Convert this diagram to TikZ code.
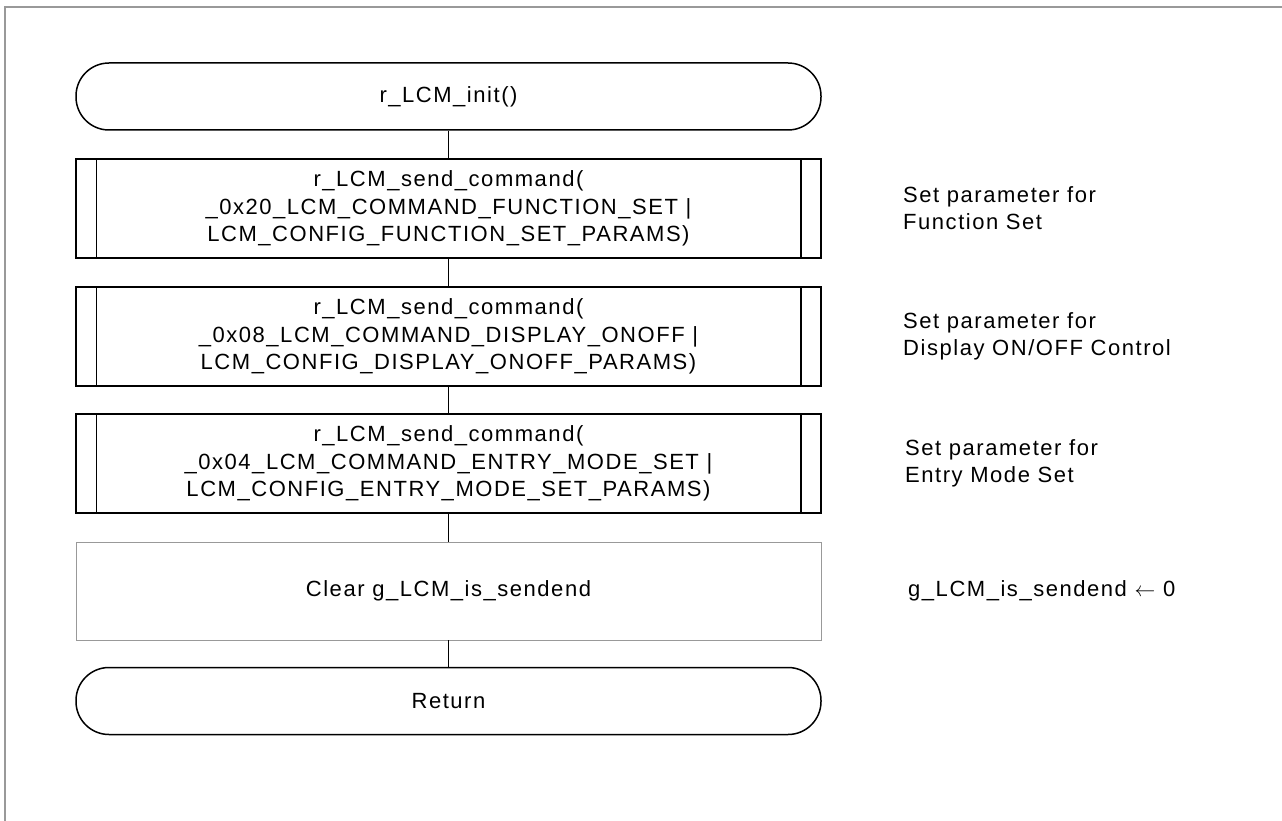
\documentclass[tikz,border=0pt]{standalone}
\usepackage{fontspec}
\setmainfont[LetterSpace=7]{Liberation Sans}
\begin{document}
\begin{tikzpicture}
  [x=1pt, y=-1pt,
   every node/.style={font=\fontsize{22}{27.5}\selectfont, inner sep=0pt},
   terminal/.style={draw, line width=1.5pt, rounded corners=33pt,
     minimum width=745pt, minimum height=67pt},
   subproc/.style={draw, line width=1.5pt, align=center,
     minimum width=745pt, minimum height=99pt},
   procbox/.style={draw=gray!80, line width=0.9pt, align=center,
     minimum width=745pt, minimum height=98pt},
   note/.style={anchor=west, align=left, font=\fontsize{22}{27}\selectfont},
   flow line/.style={line width=1.5pt}]
  \useasboundingbox (0,0) rectangle (1282,821);
  % frame
  \draw[gray!80, line width=1.2pt] (5,821) -- (5,7) -- (1282,7);
  % flow
  \node[terminal] (init) at (448.5,96.5) {r\_LCM\_init()};
  \node[subproc] (fset) at (448.5,208.5)
    {r\_LCM\_send\_command(\\\_0x20\_LCM\_COMMAND\_FUNCTION\_SET |\\LCM\_CONFIG\_FUNCTION\_SET\_PARAMS)};
  \node[subproc] (disp) at (448.5,336.5)
    {r\_LCM\_send\_command(\\\_0x08\_LCM\_COMMAND\_DISPLAY\_ONOFF |\\LCM\_CONFIG\_DISPLAY\_ONOFF\_PARAMS)};
  \node[subproc] (entry) at (448.5,463.5)
    {r\_LCM\_send\_command(\\\_0x04\_LCM\_COMMAND\_ENTRY\_MODE\_SET |\\LCM\_CONFIG\_ENTRY\_MODE\_SET\_PARAMS)};
  \node[procbox] (clear) at (448.5,591) {Clear g\_LCM\_is\_sendend};
  \node[terminal] (ret) at (448.5,701) {Return};
  \foreach \b in {fset, disp, entry} {
    \draw[flow line] ([xshift=21pt]\b.north west) -- ([xshift=21pt]\b.south west);
    \draw[flow line] ([xshift=-21pt]\b.north east) -- ([xshift=-21pt]\b.south east);
  }
  \draw[flow line] (init) -- (fset);
  \draw[flow line] (fset) -- (disp);
  \draw[flow line] (disp) -- (entry);
  \draw[flow line] (entry) -- (clear);
  \draw[flow line] (clear) -- (ret);
  % comments
  \node[note] (nfset) at (903,208.5) {Set parameter for\\Function Set};
  \node[note] (ndisp) at (903,336.5) {Set parameter for\\Display ON/OFF Control};
  \node[note] (nentry) at (905,463.5) {Set parameter for\\Entry Mode Set};
  \node[note] (nclear) at (908,591) {g\_LCM\_is\_sendend $\leftarrow$ 0};
\end{tikzpicture}
\end{document}
